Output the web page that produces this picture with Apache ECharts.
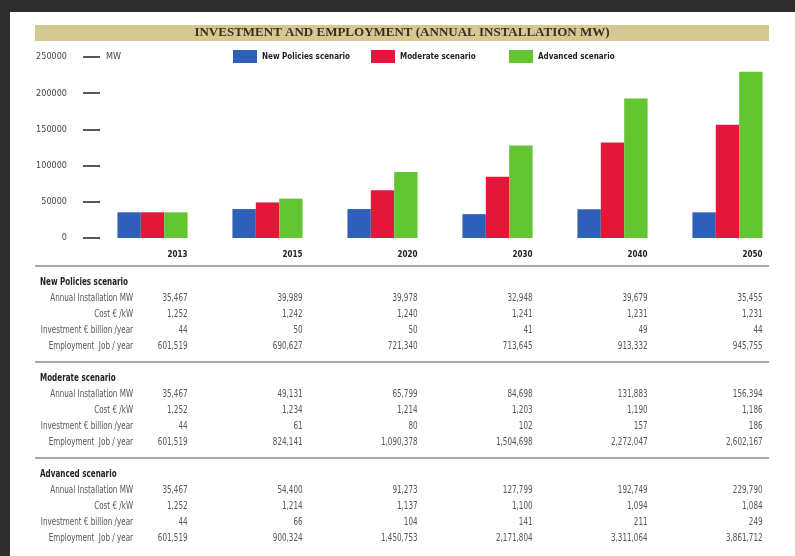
<!DOCTYPE html>
<html>
<head>
<meta charset="utf-8">
<script src="https://cdn.jsdelivr.net/npm/echarts@6/dist/echarts.min.js"></script>
<style>
html, body { margin: 0; padding: 0; background: #fff; }
#main { width: 795px; height: 556px; }
</style>
</head>
<body>
<div id="main"></div>
<script>
var narrow = '"Liberation Sans Narrow", "DejaVu Sans Condensed", "Roboto Condensed", sans-serif';

var years = ['2013', '2015', '2020', '2030', '2040', '2050'];
var yTicks = [0, 50000, 100000, 150000, 200000, 250000];
var scenarios = ['New Policies scenario', 'Moderate scenario', 'Advanced scenario'];

// annual installation MW (bars + first table line of each block)
var newPolicies = [35467, 39989, 39978, 32948, 39679, 35455];
var moderate    = [35467, 49131, 65799, 84698, 131883, 156394];
var advanced    = [35467, 54400, 91273, 127799, 192749, 229790];

var costNP  = [1252, 1242, 1240, 1241, 1231, 1231];
var costMod = [1252, 1234, 1214, 1203, 1190, 1186];
var costAdv = [1252, 1214, 1137, 1100, 1094, 1084];

var invNP  = [44, 50, 50, 41, 49, 44];
var invMod = [44, 61, 80, 102, 157, 186];
var invAdv = [44, 66, 104, 141, 211, 249];

var jobsNP  = [601519, 690627, 721340, 713645, 913332, 945755];
var jobsMod = [601519, 824141, 1090378, 1504698, 2272047, 2602167];
var jobsAdv = [601519, 900324, 1450753, 2171804, 3311064, 3861712];

var rowNames = ['Annual Installation MW', 'Cost \u20ac /kW', 'Investment \u20ac billion /year', 'Employment  Job / year'];

function block(title, lists) {
    var out = [{kind: 'line'}, {kind: 'head', text: title}];
    for (var i = 0; i < lists.length; i++) {
        out.push({kind: 'row', label: rowNames[i], values: lists[i]});
    }
    return out;
}
var tableRows = [].concat(
    block(scenarios[0], [newPolicies, costNP, invNP, jobsNP]),
    block(scenarios[1], [moderate, costMod, invMod, jobsMod]),
    block(scenarios[2], [advanced, costAdv, invAdv, jobsAdv])
);

var catGap = 0.39;
var squeeze = 0.8; // the print uses a very condensed face

function fmt(v) {
    return v.toLocaleString('en-US');
}

// one legend per item so the swatches sit on an even 138px pitch
var legends = scenarios.map(function (name, i) {
    return {
        left: 228 + i * 138,
        top: 45,
        itemWidth: 24,
        itemHeight: 13,
        icon: 'rect',
        textStyle: {fontFamily: narrow, fontWeight: 'bold', fontSize: 8, color: '#222'},
        data: [name]
    };
});

var option = {
    animation: false,
    backgroundColor: '#fff',
    color: ['#2e60ba', '#e4173b', '#62c531'],
    graphic: [
        {type: 'rect', z: 100, shape: {x: 0, y: 0, width: 795, height: 12}, style: {fill: '#2e2e2e'}},
        {type: 'rect', z: 100, shape: {x: 0, y: 0, width: 10, height: 556}, style: {fill: '#2e2e2e'}},
        {type: 'rect', shape: {x: 35, y: 25, width: 734, height: 16}, style: {fill: '#d5c993'}},
        {
            type: 'text', x: 402, y: 33,
            style: {
                text: 'INVESTMENT AND EMPLOYMENT (ANNUAL INSTALLATION MW)',
                fill: '#3a3020', align: 'center', verticalAlign: 'middle',
                font: 'bold 13px "Liberation Serif", serif'
            }
        }
    ],
    legend: legends,
    grid: [
        {left: 95, right: 10, top: 57, height: 181, outerBoundsMode: 'none'},
        {left: 95, right: 10, top: 258, height: 288, outerBoundsMode: 'none'}
    ],
    xAxis: [
        {
            type: 'category', gridIndex: 0, data: years,
            axisLine: {show: false}, axisTick: {show: false},
            axisLabel: {
                margin: 13, align: 'left', padding: [0, 0, 0, 15],
                fontFamily: narrow, fontWeight: 'bold', fontSize: 8, color: '#222'
            }
        },
        {type: 'category', gridIndex: 1, data: years, show: false}
    ],
    yAxis: [
        {
            type: 'value', gridIndex: 0, min: 0, max: 250000, interval: 50000,
            offset: -5,
            name: 'MW', nameLocation: 'end', nameGap: 0,
            nameTextStyle: {
                align: 'left', verticalAlign: 'middle', padding: [0, 0, 0, 6],
                fontFamily: narrow, fontSize: 9, color: '#444'
            },
            axisLine: {show: false},
            axisTick: {show: true, length: 17, lineStyle: {color: '#222', width: 1.5}},
            splitLine: {show: false},
            axisLabel: {
                margin: 33, fontFamily: narrow, fontSize: 9, color: '#444',
                customValues: yTicks,
                formatter: function (v) { return String(v); }
            }
        },
        {
            type: 'category', gridIndex: 1, inverse: true, show: false,
            data: tableRows.map(function (r, i) { return i; })
        }
    ],
    series: [
        {name: scenarios[0], type: 'bar', barGap: 0, barCategoryGap: (catGap * 100) + '%', data: newPolicies},
        {name: scenarios[1], type: 'bar', barGap: 0, barCategoryGap: (catGap * 100) + '%', data: moderate},
        {name: scenarios[2], type: 'bar', barGap: 0, barCategoryGap: (catGap * 100) + '%', data: advanced},
        {
            type: 'custom',
            xAxisIndex: 1, yAxisIndex: 1,
            clip: false,
            silent: true,
            data: tableRows.map(function (r, i) { return [0, i]; }),
            renderItem: function (params, api) {
                var i = params.dataIndex;
                var row = tableRows[i];
                var cs = params.coordSys;
                var y = api.coord([0, i])[1];
                if (row.kind === 'line') {
                    return {
                        type: 'line',
                        shape: {x1: cs.x - 60, y1: y, x2: cs.x + cs.width - 16, y2: y},
                        style: {stroke: '#8a8a8a', lineWidth: 1.5}
                    };
                }
                if (row.kind === 'head') {
                    return {
                        type: 'text', x: cs.x - 55, y: y, scaleX: squeeze,
                        style: {
                            text: row.text, align: 'left', verticalAlign: 'middle',
                            font: 'bold 10px ' + narrow, fill: '#222'
                        }
                    };
                }
                var band = api.size([1, 0])[0];
                var half = band * (1 - catGap) / 2;
                var kids = [{
                    type: 'text', x: cs.x + 38, y: y, scaleX: squeeze,
                    style: {
                        text: row.label, align: 'right', verticalAlign: 'middle',
                        font: '10px ' + narrow, fill: '#555'
                    }
                }];
                for (var k = 0; k < row.values.length; k++) {
                    kids.push({
                        type: 'text', x: api.coord([k, i])[0] + half, y: y, scaleX: squeeze,
                        style: {
                            text: fmt(row.values[k]), align: 'right', verticalAlign: 'middle',
                            font: '10px ' + narrow, fill: '#555'
                        }
                    });
                }
                return {type: 'group', children: kids};
            }
        }
    ]
};

var chart = echarts.init(document.getElementById('main'));
chart.setOption(option);
</script>
</body>
</html>
